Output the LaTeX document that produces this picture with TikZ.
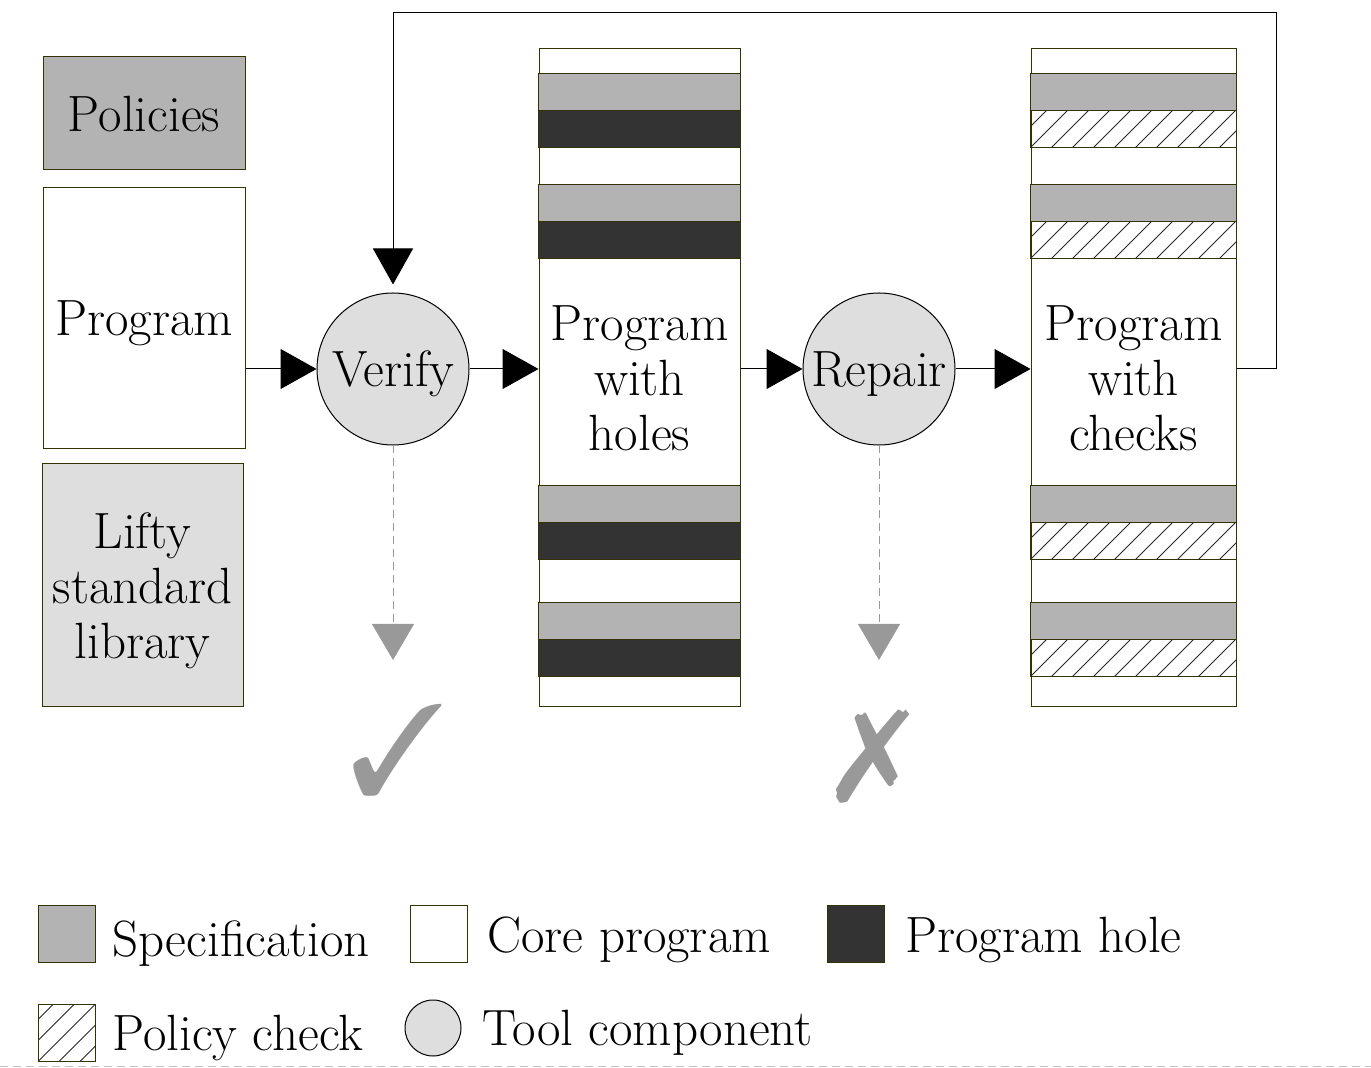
\documentclass[tikz,border=0pt]{standalone}
\usepackage{pifont}
\usetikzlibrary{positioning,calc,arrows.meta}
\definecolor{spec}{HTML}{B3B3B3}
\definecolor{hole}{HTML}{333333}
\definecolor{tool}{HTML}{DEDEDE}
\definecolor{edge}{HTML}{333300}
\definecolor{fade}{HTML}{999999}
\tikzset{
	part box/.style={
		draw=edge, line width=0.5pt,
		inner sep=0pt, align=center, text depth=0pt
	},
	spec band/.style={draw=edge, line width=0.5pt, fill=spec},
	hole band/.style={draw=edge, line width=0.5pt, fill=hole},
	hatch/.style={
		path picture={
			\foreach \i in {-3,...,10}
				\draw[line width=0.45pt, black!85] ($(path picture bounding box.south west)+(\i*21,0)$) -- ++(120,-120);
		}
	},
	check band/.style={draw=edge, line width=0.5pt, hatch},
	tool node/.style={
		circle, draw=black, line width=0.5pt, fill=tool,
		inner sep=0pt, minimum size=76pt, text depth=0pt
	},
	flow/.style={-{Triangle[length=18pt,width=20pt]}, line width=0.5pt},
	fail flow/.style={
		-{Triangle[length=18pt,width=21pt]}, draw=fade, line width=0.4pt,
		dash pattern=on 4pt off 2.5pt
	},
	verdict/.style={text=fade, inner sep=0pt, font=\fontsize{64}{64}\selectfont},
	key text/.style={anchor=base west, inner sep=0pt}
}
\begin{document}
\begin{tikzpicture}[x=0.5pt, y=-0.5pt, font=\fontsize{25.5}{27.5}\selectfont]
	\useasboundingbox (0,0) rectangle (1371,1068);
	
	% inputs
	\node[part box, fill=spec, minimum width=101pt, minimum height=56.5pt] (policies) at (144,113.5) {Policies};
	\node[part box, minimum width=101pt, minimum height=130.5pt] (program) at (144,318.5) {Program};
	\node[part box, fill=tool, minimum width=100.5pt, minimum height=121.5pt] (lifty) at (142.5,585.5) {Lifty\\standard\\library};
	
	% tool components
	\node[tool node] (verify) at (393,369) {Verify};
	\node[tool node] (repair) at (879,369) {Repair};
	
	% program columns
	\node[part box, minimum width=100.5pt, minimum height=329pt] (holes) at (639.5,378) {Program\\with\\holes};
	\node[part box, minimum width=102.5pt, minimum height=329pt] (checks) at (1133.5,378) {Program\\with\\checks};
	
	\foreach \col/\kind in {holes/hole band, checks/check band} {
		\foreach \off in {25,136,437,554} {
			\draw[spec band] ($(\col.north west)+(0,\off)$) rectangle ($(\col.north east)+(0,\off+37)$);
			\draw[\kind] ($(\col.north west)+(0,\off+37)$) rectangle ($(\col.north east)+(0,\off+74)$);
		}
	}
	
	% main flow
	\draw[flow] (program.east |- verify) -- (verify.west);
	\draw[flow] (verify.east) -- (holes.west |- verify);
	\draw[flow] (holes.east |- repair) -- (repair.west);
	\draw[flow] (repair.east) -- (checks.west |- repair);
	
	\coordinate (loop) at (1276,13);
	\draw[flow, shorten >=4pt] (checks.east |- repair) -| (loop) -| (verify.north);
	
	% outcomes
	\node[verdict] (ok) at (398,750) {\ding{51}};
	\node[verdict] (fail) at (873,757) {\ding{55}};
	\coordinate (ok end) at (393,660);
	\coordinate (fail end) at (879,660);
	\draw[fail flow] (verify.south) -- (ok end);
	\draw[fail flow] (repair.south) -- (fail end);
	
	% legend
	\node[part box, fill=spec, minimum size=28.5pt] (key spec) at (66.5,934) {};
	\node[key text] (key spec text) at (112,957) {Specification};
	\node[part box, minimum size=28.5pt] (key core) at (439,934) {};
	\node[key text] (key core text) at (487,952) {Core program};
	\node[part box, fill=hole, minimum size=28.5pt] (key hole) at (855.5,934) {};
	\node[key text] (key hole text) at (905,952) {Program hole};
	\node[part box, minimum size=28.5pt, hatch] (key check) at (66.5,1033) {};
	\node[key text] (key check text) at (112,1050) {Policy check};
	\node[tool node, minimum size=28pt] (key tool) at (433,1028) {};
	\node[key text] (key tool text) at (482,1045) {Tool component};
	
	\draw[fade!60, line width=0.5pt, dash pattern=on 4pt off 2.5pt] (0,1066) -- (1371,1066);
\end{tikzpicture}
\end{document}
